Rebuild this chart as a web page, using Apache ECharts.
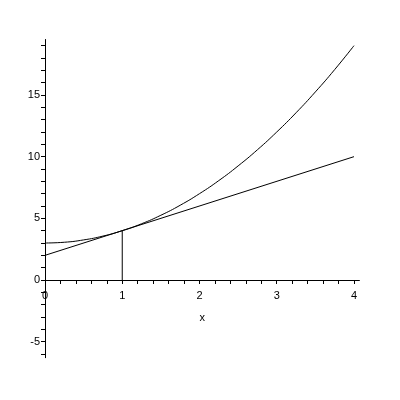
<!DOCTYPE html>
<html><head><meta charset="utf-8">
<script src="https://cdn.jsdelivr.net/npm/echarts@6/dist/echarts.min.js"></script>
<style>html,body{margin:0;padding:0;background:#fff}#c{width:400px;height:400px}</style>
</head><body><div id="c"></div>
<script>
// Curve
var curveX = [0, 0.25, 0.5, 0.75, 1, 1.25, 1.5, 1.75, 2, 2.25, 2.5, 2.75, 3, 3.25, 3.5, 3.75, 4];
var curveY = [3, 3.06, 3.25, 3.56, 4, 4.56, 5.25, 6.06, 7, 8.06, 9.25, 10.56, 12, 13.56, 15.25, 17.06, 19];
// Tangent line
var lineX = [0, 4];
var lineY = [2, 10];
// Vertical segment at x = 1
var vertX = [1, 1];
var vertY = [0, 4];
// Ticks and labels
var xTicks = [0,0.2,0.4,0.6,0.8,1,1.2,1.4,1.6,1.8,2,2.2,2.4,2.6,2.8,3,3.2,3.4,3.6,3.8,4];
var xLabels = [0, 1, 2, 3, 4];
var yTicks = [-6,-5,-4,-3,-2,-1,0,1,2,3,4,5,6,7,8,9,10,11,12,13,14,15,16,17,18,19];
var yLabels = [-5, 0, 5, 10, 15];
var xMin = 0, xMax = 4.07, yMin = -6.3, yMax = 19.5;

function pairs(xs, ys){ return xs.map(function(x,i){ return [x, ys[i]]; }); }
var font = 'Liberation Sans';
var gridH = 318.2;
var xAxisOffset = -gridH * (0 - yMin) / (yMax - yMin);
var chart = echarts.init(document.getElementById('c'));
var lineStyle = {color:'#000', width:1};
chart.setOption({
  animation:false,
  backgroundColor:'#fff',
  grid:{left:45, top:39.5, width:314.4, height:gridH, containLabel:false, outerBoundsMode:'none'},
  xAxis:{type:'value', min:xMin, max:xMax, position:'bottom', offset:xAxisOffset,
    name:'x', nameLocation:'middle', nameGap:32,
    nameTextStyle:{color:'#000', fontSize:11, fontFamily:font},
    axisLine:{onZero:false, lineStyle:{color:'#000', width:1}},
    axisTick:{show:true, length:4, customValues:xTicks, lineStyle:{color:'#000'}},
    axisLabel:{customValues:xLabels, color:'#000', fontSize:11, fontFamily:font, margin:10},
    splitLine:{show:false}},
  yAxis:{type:'value', min:yMin, max:yMax,
    axisLine:{onZero:false, lineStyle:{color:'#000', width:1}},
    axisTick:{show:true, length:4, customValues:yTicks, lineStyle:{color:'#000'}},
    axisLabel:{customValues:yLabels, color:'#000', fontSize:11, fontFamily:font, margin:5},
    splitLine:{show:false}},
  series:[
    {type:'line', data:pairs(curveX, curveY), smooth:true, symbol:'none', lineStyle:lineStyle},
    {type:'line', data:pairs(lineX, lineY), symbol:'none', lineStyle:lineStyle},
    {type:'line', data:pairs(vertX, vertY), symbol:'none', lineStyle:lineStyle}
  ]
});
</script></body></html>
